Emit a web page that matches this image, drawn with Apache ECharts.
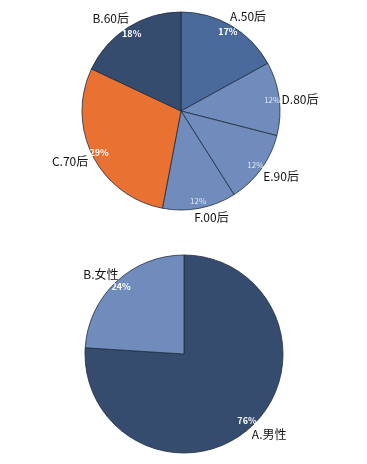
<!DOCTYPE html>
<html><head><meta charset="utf-8">
<script src="https://cdn.jsdelivr.net/npm/echarts@6/dist/echarts.min.js"></script>
<style>html,body{margin:0;padding:0;background:#fff}#c{width:367px;height:464px}</style>
</head><body><div id="c"></div>
<script>
// Top pie: age groups, clockwise from 12 o'clock
const ageNames = ['A.50后','D.80后','E.90后','F.00后','C.70后','B.60后'];
const ageValues = [17, 12, 12, 12, 29, 18];
// Bottom pie: gender
const genderNames = ['A.男性','B.女性'];
const genderValues = [76, 24];

// styling (kept separate from data)
const ageColors = ['#4a6a9c','#6f8cbd','#6f8cbd','#6f8cbd','#e97132','#364c6f'];
const agePctColors = ['#fff','#dfe6f2','#dfe6f2','#dfe6f2','#fff','#fff'];
const agePctWeights = ['bold','normal','normal','normal','bold','bold'];
const ageNameNudge = [[6,9],[0,3],[3,-5],[8,-11],[-4,-4],[-6,9]];
const genderColors = ['#364c6f','#6f8cbd'];
const genderPctColors = ['#fff','#fff'];
const genderPctWeights = ['bold','bold'];
const genderNameNudge = [[3,-7],[-1,8]];

const font = '"Noto Sans CJK SC","Noto Sans",sans-serif';

function pieSet(names, values, colors, pctColors, pctWeights, nudge, center) {
  const base = names.map((n,i)=>({name:n, value:values[i]}));
  return [
    { type:'pie', center:center, radius:[0,99], startAngle:90, clockwise:true,
      silent:true, animation:false,
      data: base.map((d,i)=>({...d, itemStyle:{color:colors[i]}})),
      itemStyle:{borderColor:'#1f2b3d', borderWidth:0.8},
      label:{show:false}, labelLine:{show:false} },
    { type:'pie', center:center, radius:[80,98], startAngle:90, clockwise:true,
      silent:true, animation:false,
      data: base.map((d,i)=>({...d, label:{color:pctColors[i], fontWeight:pctWeights[i],
        fontSize: pctWeights[i]==='bold'?9:8}})),
      itemStyle:{color:'rgba(0,0,0,0)'},
      label:{show:true, position:'inside', color:'#fff', fontSize:9, fontWeight:'bold', fontFamily:font,
        formatter: p => p.value + '%'},
      labelLine:{show:false} },
    { type:'pie', center:center, radius:[108,126], startAngle:90, clockwise:true,
      silent:true, animation:false,
      data: base.map((d,i)=>({...d, label:{offset:nudge[i]}})),
      itemStyle:{color:'rgba(0,0,0,0)'},
      label:{show:true, position:'inside', color:'#111', fontSize:12, fontFamily:font,
        formatter: p => p.name},
      labelLine:{show:false} }
  ];
}

const chart = echarts.init(document.getElementById('c'), null, {renderer:'canvas'});
chart.setOption({
  backgroundColor:'#fff',
  series: [
    ...pieSet(ageNames, ageValues, ageColors, agePctColors, agePctWeights, ageNameNudge, [181,111]),
    ...pieSet(genderNames, genderValues, genderColors, genderPctColors, genderPctWeights, genderNameNudge, [184,354])
  ]
});
</script></body></html>
